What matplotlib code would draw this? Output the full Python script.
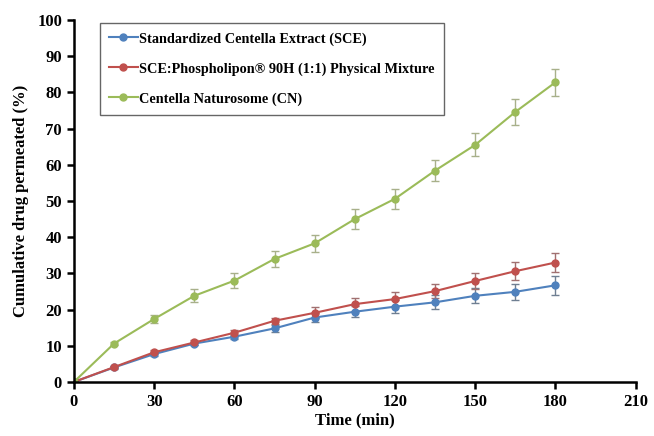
import matplotlib
matplotlib.use("Agg")
import matplotlib.pyplot as plt

time = [0, 15, 30, 45, 60, 75, 90, 105, 120, 135, 150, 165, 180]
sce = [0, 4.0, 7.7, 10.6, 12.5, 14.8, 17.8, 19.4, 20.8, 22.0, 23.8, 24.9, 26.7]
sce_err = [0, 0.3, 0.5, 0.5, 0.6, 0.9, 1.2, 1.5, 1.8, 1.9, 2.1, 2.2, 2.6]
mix = [0, 4.1, 8.2, 10.9, 13.6, 16.9, 19.1, 21.5, 22.9, 25.1, 27.9, 30.6, 33.0]
mix_err = [0, 0.3, 0.5, 0.6, 0.8, 0.9, 1.5, 1.8, 2.0, 2.0, 2.3, 2.5, 2.6]
cn = [0, 10.6, 17.4, 23.8, 28.0, 34.0, 38.3, 45.0, 50.6, 58.4, 65.5, 74.6, 82.8]
cn_err = [0, 0.5, 1.0, 1.8, 2.0, 2.3, 2.3, 2.7, 2.7, 2.8, 3.2, 3.5, 3.8]

labels = ["Standardized Centella Extract (SCE)",
          "SCE:Phospholipon\u00ae 90H (1:1) Physical Mixture",
          "Centella Naturosome (CN)"]
colors = ["#4F81BD", "#C0504D", "#9BBB59"]
ecolors = ["#6f7f92", "#a07070", "#a8b08a"]

plt.rcParams['font.family'] = ['Liberation Serif', 'DejaVu Serif']
plt.rcParams['font.weight'] = 'bold'

fig = plt.figure(figsize=(6.54, 4.36), dpi=100)
ax = fig.add_axes([0.113, 0.124, 0.859, 0.830])

handles = []
for y, e, c, ec, lab in zip([sce, mix, cn], [sce_err, mix_err, cn_err], colors, ecolors, labels):
    cont = ax.errorbar(time, y, yerr=e, color=c, ecolor=ec, elinewidth=1.0, capsize=3,
                       capthick=1.0, marker='o', markersize=5, linewidth=1.5, label=lab)
    handles.append(cont[0])

ax.set_xlim(0, 210)
ax.set_ylim(0, 100)
ax.set_xticks(range(0, 211, 30))
ax.set_yticks(range(0, 101, 10))
for s in ['top', 'right']:
    ax.spines[s].set_visible(False)
for s in ['left', 'bottom']:
    ax.spines[s].set_linewidth(1.8)
ax.tick_params(direction='out', length=5, width=1.8, labelsize=12)
for t in ax.get_xticklabels() + ax.get_yticklabels():
    t.set_fontweight('bold')
ax.set_xlabel("Time (min)", fontsize=12, fontweight='bold', labelpad=2)
ax.set_ylabel("Cumulative drug permeated (%)", fontsize=12, fontweight='bold', labelpad=6)

leg = ax.legend(handles, labels, loc='upper left', bbox_to_anchor=(0.033, 1.012), fontsize=10.3,
                frameon=True, fancybox=False, edgecolor='#404040', borderpad=0.65,
                labelspacing=1.15, handlelength=2.0, handletextpad=0.1)
leg.get_frame().set_linewidth(1.0)
for t in leg.get_texts():
    t.set_fontweight('bold')

fig.savefig("out.png", dpi=100)
